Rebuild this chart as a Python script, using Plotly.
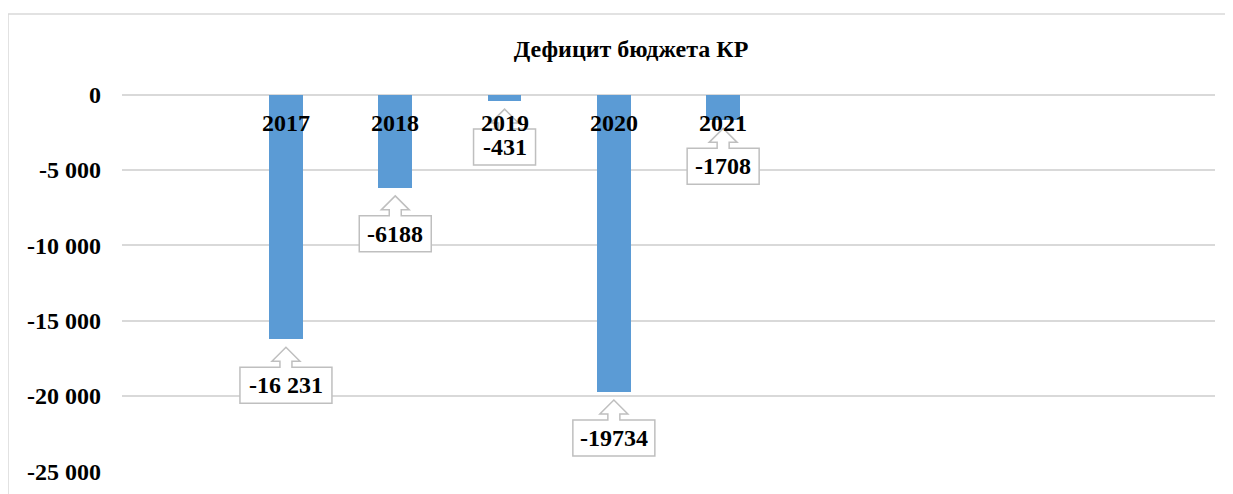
"""Дефицит бюджета КР - Excel-style column chart with callout data labels"""

import plotly.graph_objects as go

YEARS = ["2017", "2018", "2019", "2020", "2021"]
DEFICIT = [-16231, -6188, -431, -19734, -1708]
VALUE_LABELS = ["-16 231", "-6188", "-431", "-19734", "-1708"]
TICK_VALUES = [0, -5000, -10000, -15000, -20000, -25000]
TICK_LABELS = ["0", "-5 000", "-10 000", "-15 000", "-20 000", "-25 000"]
TITLE = "Дефицит бюджета КР"

# the category axis in the source has 10 slots; data sits in slots 1..5
SLOTS = 10
FIRST_SLOT = 1

FONT = "Liberation Serif"
BAR_COLOR = "#5b9bd5"
GRID_COLOR = "#d9d9d9"
CALLOUT_LINE = "#bfbfbf"

positions = [FIRST_SLOT + i for i in range(len(YEARS))]

figure = go.Figure()
figure.add_trace(go.Bar(x=positions, y=DEFICIT, width=0.31,
                        marker={"color": BAR_COLOR, "line": {"width": 0}},
                        showlegend=False, hoverinfo="skip"))


def callout_path(label: str) -> str:
    """Outline of a box with a hollow arrow pointing up, in pixels below the anchor"""
    half = (10 * len(label) + 22) / 2
    pts = [(0, -8), (14, -22), (6, -22), (6, -28), (half, -28), (half, -64),
           (-half, -64), (-half, -28), (-6, -28), (-6, -22), (-14, -22)]
    return "M " + " L ".join(f"{px},{py}" for px, py in pts) + " Z"


shapes = []
annotations = []
for pos, value, label, year in zip(positions, DEFICIT, VALUE_LABELS, YEARS):
    shapes.append({"type": "path", "xref": "x", "yref": "y",
                   "xsizemode": "pixel", "ysizemode": "pixel",
                   "xanchor": pos, "yanchor": value,
                   "path": callout_path(label), "fillcolor": "white",
                   "line": {"color": CALLOUT_LINE, "width": 1.5}, "layer": "above"})
    annotations.append({"x": pos, "y": value, "xref": "x", "yref": "y",
                        "text": f"<b>{label}</b>", "showarrow": False,
                        "yshift": -46, "yanchor": "middle",
                        "font": {"family": FONT, "size": 24, "color": "black"}})
    annotations.append({"x": pos, "y": 0, "xref": "x", "yref": "y",
                        "text": f"<b>{year}</b>", "showarrow": False,
                        "yshift": -28, "yanchor": "middle",
                        "font": {"family": FONT, "size": 24, "color": "black"}})

# chart-area border like the Excel frame
shapes.append({"type": "rect", "xref": "paper", "yref": "paper",
               "x0": -0.1043, "x1": 1.0165, "y0": -0.08, "y1": 1.2116,
               "line": {"color": GRID_COLOR, "width": 1.5}, "fillcolor": "rgba(0,0,0,0)",
               "layer": "below"})

# the page body adds an 8 px offset, so margins are set 8 px smaller on top/left
figure.update_layout(
    width=1233, height=494,
    margin={"l": 114, "r": 26, "t": 86, "b": 30, "autoexpand": False},
    paper_bgcolor="white", plot_bgcolor="white",
    font={"family": FONT, "color": "black"},
    title={"text": f"<b>{TITLE}</b>", "x": 0.5053, "y": 0.917,
           "xanchor": "center", "yanchor": "middle",
           "font": {"family": FONT, "size": 24, "color": "black"}},
    xaxis={"range": [-0.5, SLOTS - 0.5], "visible": False, "fixedrange": True,
           "automargin": False},
    yaxis={"range": [-25040, 40], "tickvals": TICK_VALUES, "ticktext": TICK_LABELS,
           "showgrid": True, "gridcolor": GRID_COLOR, "gridwidth": 1.5,
           "zeroline": True, "zerolinecolor": GRID_COLOR, "zerolinewidth": 1.5,
           "showline": False, "ticks": "", "ticklabelstandoff": 20, "automargin": False,
           "tickfont": {"family": FONT, "size": 24, "color": "black", "weight": "bold"}},
    shapes=shapes,
    annotations=annotations,
    bargap=0,
)

figure.write_html("out.html")
